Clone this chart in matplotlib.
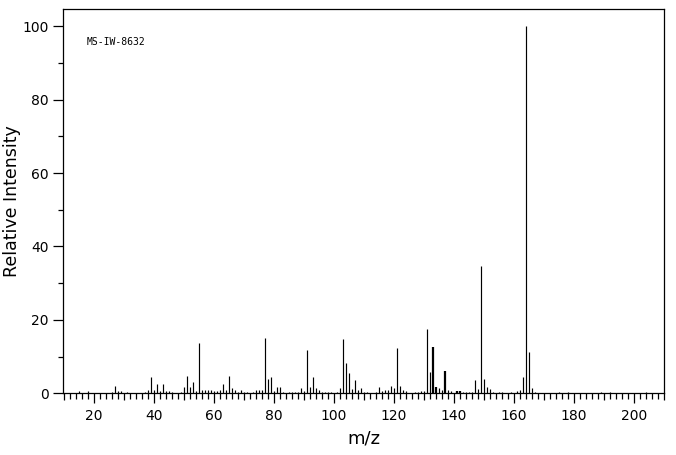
import matplotlib
matplotlib.use("Agg")
import matplotlib.pyplot as plt
from matplotlib.ticker import MultipleLocator, FuncFormatter

mz = [15, 18, 26, 27, 28, 29, 31,
      37, 38, 39, 40, 41, 42, 43, 44, 45, 46, 49, 50, 51, 52, 53, 54, 55, 56, 57, 58, 59, 60, 61,
      62, 63, 64, 65, 66, 67, 68, 69, 70, 71, 73, 74, 75, 76, 77, 78, 79, 80, 81, 82, 83, 85, 86, 87,
      88, 89, 90, 91, 92, 93, 94, 95, 96, 97, 98, 99, 101, 102, 103, 104, 105, 106, 107, 108, 109, 110, 111,
      114, 115, 116, 117, 118, 119, 120, 121, 122, 123, 124, 127, 128, 129, 130, 131, 132, 133, 134, 135,
      136, 137, 138, 139, 141, 142, 143, 144, 145, 146, 147, 148, 149, 150, 151, 152, 153, 155, 156, 159,
      161, 162, 163, 164, 165, 166, 167, 175, 178, 189, 192, 204]
intensity = [0.5, 0.5, 0.3, 1.9, 0.7, 0.5, 0.3,
             0.3, 0.9, 4.5, 0.9, 2.5, 0.5, 2.5, 0.5, 0.7, 0.4, 0.4, 1.6, 4.7, 1.7, 3.1, 0.5, 13.7, 0.8, 0.8, 0.8, 0.8, 0.6, 0.5,
             0.9, 2.5, 0.9, 4.7, 1.4, 0.8, 0.4, 0.8, 0.4, 0.4, 0.3, 0.8, 0.8, 0.8, 15.1, 3.9, 4.5, 0.6, 1.7, 1.7, 0.3, 0.3, 0.3, 0.3,
             0.3, 1.4, 0.6, 11.8, 1.7, 4.5, 1.4, 0.8, 0.4, 0.4, 0.4, 0.4, 0.4, 1.4, 14.8, 8.3, 5.5, 1.2, 3.5, 0.8, 1.4, 0.3, 0.4,
             0.4, 1.6, 0.6, 0.8, 0.8, 1.9, 1.5, 12.4, 1.9, 0.8, 0.5, 0.4, 0.4, 0.6, 0.6, 17.5, 5.7, 12.6, 1.7, 1.5,
             0.8, 6.1, 0.8, 0.6, 0.6, 0.6, 0.4, 0.3, 0.3, 0.4, 3.6, 1.2, 34.7, 3.9, 1.7, 1.2, 0.4, 0.4, 0.3, 0.4,
             0.6, 0.8, 4.5, 100.0, 11.3, 1.5, 0.3, 0.3, 0.3, 0.3, 0.4, 0.3]
thick_mz = [133, 134, 137, 141, 142]
label_text = "MS-IW-8632"
x_label = "m/z"
y_label = "Relative Intensity"

fig = plt.figure(figsize=(6.76, 4.55), dpi=100)
ax = fig.add_axes([63 / 676, 61.7 / 455, 601 / 676, 384.4 / 455])

widths = [1.6 if m in thick_mz else 0.85 for m in mz]
ax.vlines(mz, 0, intensity, colors="black", linewidths=widths)

ax.set_xlim(9.7, 210.1)
ax.set_ylim(0, 104.7)

for s in ax.spines.values():
    s.set_linewidth(0.9)
    s.set_color("black")

ax.xaxis.set_major_locator(MultipleLocator(10))
ax.xaxis.set_major_formatter(FuncFormatter(lambda v, p: f"{int(round(v))}" if int(round(v)) % 20 == 0 else ""))
ax.xaxis.set_minor_locator(MultipleLocator(2))
ax.tick_params(axis="x", which="major", direction="out", length=5.0, width=0.9, labelsize=10, pad=6)
ax.tick_params(axis="x", which="minor", direction="out", length=4.2, width=0.9)

ax.yaxis.set_major_locator(MultipleLocator(20))
ax.yaxis.set_minor_locator(MultipleLocator(10))
ax.tick_params(axis="y", which="major", direction="out", length=7.5, width=0.9, labelsize=10, pad=3)
ax.tick_params(axis="y", which="minor", direction="out", length=3.8, width=0.9)

fig.canvas.draw()
locs = ax.get_xticks()
ticks = ax.xaxis.get_major_ticks(len(locs))
for t, v in zip(ticks, locs):
    t.tick1line.set_markersize(7.5 if int(round(v)) % 20 == 0 else 5.0)

ax.set_xlabel(x_label, fontsize=13)
ax.xaxis.set_label_coords(0.5, -0.095)
ax.set_ylabel(y_label, fontsize=12.5)
ax.yaxis.set_label_coords(-0.07, 0.5)

ax.text(0.04, 0.927, label_text, transform=ax.transAxes, fontsize=7,
        family="DejaVu Sans Mono", va="top", ha="left")

fig.savefig("out.png", dpi=100)
